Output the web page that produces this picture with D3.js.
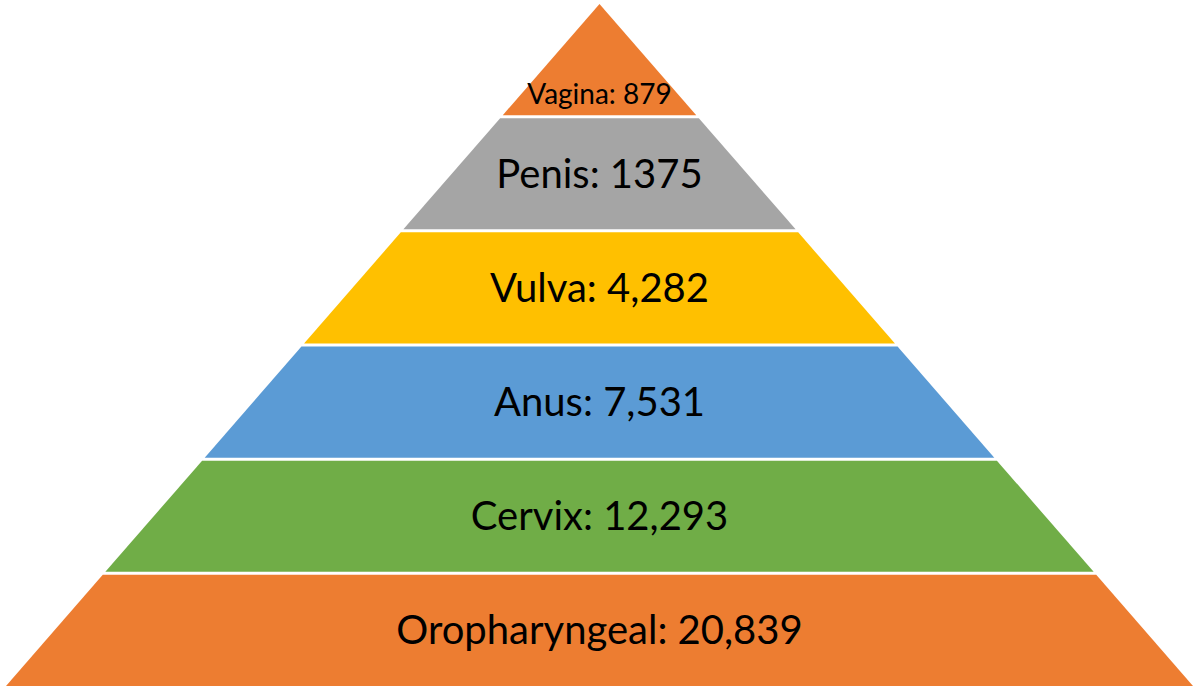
<!DOCTYPE html>
<html>
<head>
<meta charset="utf-8">
<script src="https://cdn.jsdelivr.net/npm/d3@7"></script>
<style>
  html, body { margin: 0; padding: 0; background: #fff; }
  .label { font-family: Lato, "Open Sans", sans-serif; fill: #000; }
</style>
</head>
<body>
<div class="graph_area"></div>
<script>
// pyramid layers, top to bottom
const categories = ["Vagina", "Penis", "Vulva", "Anus", "Cervix", "Oropharyngeal"]
const values = [879, 1375, 4282, 7531, 12293, 20839]
const valueLabels = ["879", "1375", "4,282", "7,531", "12,293", "20,839"]
const colors = ["#ED7D31", "#A5A5A5", "#FFC000", "#5B9BD5", "#70AD47", "#ED7D31"]

const width = 1200
const height = 689
const apexY = 4
const baseY = 686
const cx = 599.5
const halfBase = 593.5

const svg = d3.select('.graph_area')
  .append('svg')
  .attr('width', width)
  .attr('height', height)

const yScale = d3.scaleBand()
  .domain(categories)
  .range([apexY, baseY])
  .paddingInner(0.026)
  .paddingOuter(0)

// half width of the pyramid at a given y
const halfW = d3.scaleLinear()
  .domain([apexY, baseY])
  .range([0, halfBase])

const layers = categories.map((c, i) => ({
  name: c,
  value: values[i],
  text: c + ": " + valueLabels[i],
  color: colors[i],
  y0: yScale(c),
  y1: yScale(c) + yScale.bandwidth()
}))

svg.selectAll('path.layer')
  .data(layers)
  .enter()
  .append('path')
  .attr('class', 'layer')
  .attr('fill', d => d.color)
  .attr('d', d => {
    const t = halfW(d.y0), b = halfW(d.y1)
    return d3.line()([
      [cx - t, d.y0], [cx + t, d.y0],
      [cx + b, d.y1], [cx - b, d.y1]
    ]) + 'Z'
  })

svg.selectAll('text.label')
  .data(layers)
  .enter()
  .append('text')
  .attr('class', 'label')
  .attr('text-anchor', 'middle')
  .attr('x', cx)
  .attr('y', (d, i) => i === 0 ? d.y1 - 11 : (d.y0 + d.y1) / 2 + 14)
  .attr('font-size', (d, i) => i === 0 ? 28 : 40)
  .text(d => d.text)
</script>
</body>
</html>
